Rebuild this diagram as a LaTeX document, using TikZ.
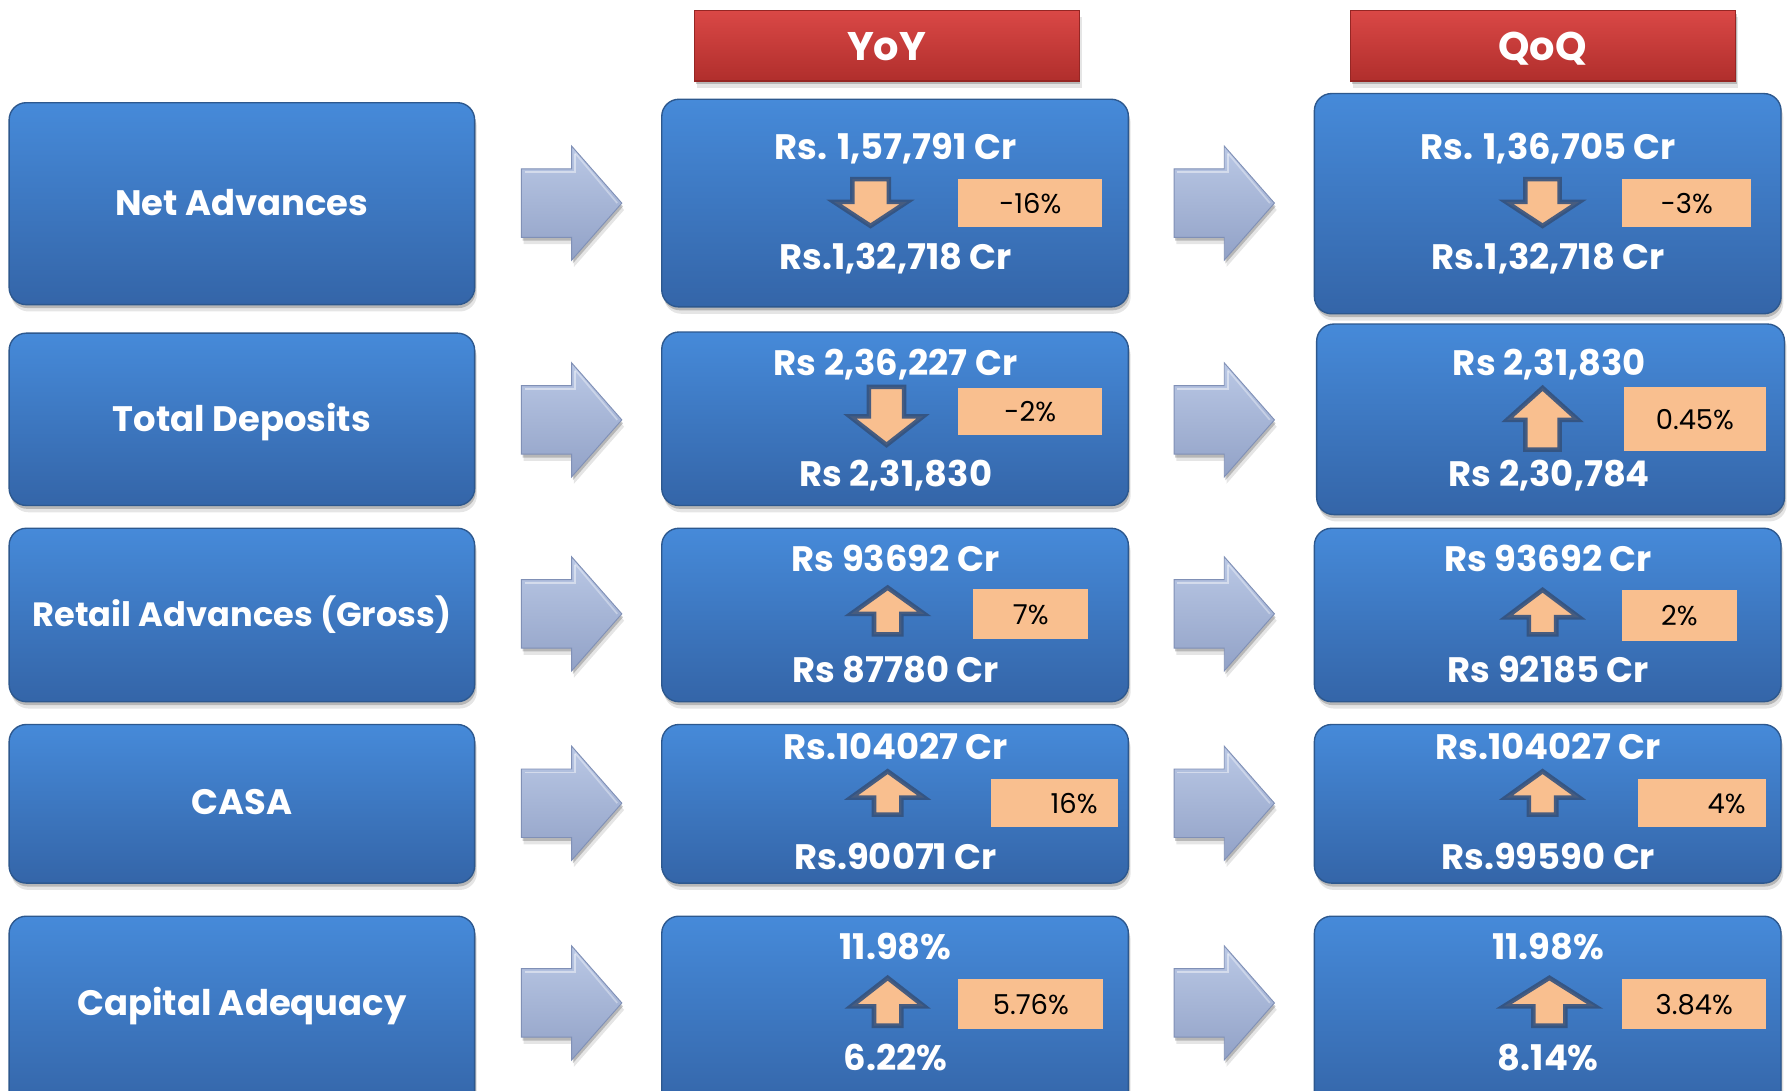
\documentclass[tikz,border=0pt]{standalone}
\usepackage{fontspec}
\setmainfont{Poppins}
\usetikzlibrary{shadows}
\definecolor{boxtop}{RGB}{70,138,217}
\definecolor{boxbot}{RGB}{52,101,168}
\definecolor{boxline}{RGB}{45,88,142}
\definecolor{redtop}{RGB}{218,72,70}
\definecolor{redbot}{RGB}{176,46,44}
\definecolor{redline}{RGB}{150,38,36}
\definecolor{peach}{RGB}{249,191,143}
\definecolor{arrline}{RGB}{52,82,126}
\definecolor{bigtop}{RGB}{186,200,229}
\definecolor{bigbot}{RGB}{146,162,199}
\definecolor{bigline}{RGB}{128,144,182}
\tikzset{
  every node/.style={inner sep=0pt, outer sep=0pt},
  softshadow/.style={drop shadow={shadow xshift=1pt,shadow yshift=-3pt,opacity=0.20,fill=black},
                     drop shadow={shadow xshift=2pt,shadow yshift=-6pt,opacity=0.10,fill=black}},
  bluebox/.style={softshadow, rounded corners=15pt, top color=boxtop, bottom color=boxbot, draw=boxline, line width=1.2pt},
  redbox/.style={softshadow, top color=redtop, bottom color=redbot, draw=redline, line width=1pt},
  peachbox/.style={fill=peach},
  bigarrow/.style={softshadow, top color=bigtop, bottom color=bigbot, draw=bigline, line width=0.8pt, line join=miter},
  smallarrow/.style={fill=peach, draw=arrline, line width=4pt, line join=miter, draw opacity=0.9},
  valtext/.style={text=white, font=\bfseries\fontsize{31}{33}\selectfont, anchor=base},
  narrowtext/.style={text=white, font=\bfseries\fontsize{29.5}{31}\selectfont, anchor=base},
  headtext/.style={text=white, font=\bfseries\fontsize{35}{37}\selectfont, anchor=base},
  pcttext/.style={text=black, font=\fontsize{24}{26}\selectfont, anchor=base},
}
\newcommand\mkbox[6]{\node[#6, anchor=north west, minimum width={#4-#2}, minimum height={#5-#3}] (#1) at (#2,#3) {};}
\newcommand\pctbox[6]{\node[peachbox, anchor=north west, minimum width={#4-#2}, minimum height={#5-#3}] (#1) at (#2,#3) {};
  \node[pcttext] (#1t) at ({(#2+#4)/2},{(#3+#5)/2+9}) {#6};}
\newcommand\pctboxr[6]{\node[peachbox, anchor=north west, minimum width={#4-#2}, minimum height={#5-#3}] (#1) at (#2,#3) {};
  \node[pcttext, anchor=base east] (#1t) at ({#4-18},{(#3+#5)/2+9}) {#6};}
\newcommand\smarr[6]{\draw[smallarrow] ({#1-#5},#4) -- ({#1-#5},#3) -- ({#1-#6},#3) -- (#1,#2) -- ({#1+#6},#3) -- ({#1+#5},#3) -- ({#1+#5},#4) -- cycle;}
\newcommand\bigarr[2]{\draw[bigarrow] (#1,{#2-30}) -- ({#1+44},{#2-30}) -- ({#1+44},{#2-50}) -- ({#1+88},#2) -- ({#1+44},{#2+50}) -- ({#1+44},{#2+30}) -- (#1,{#2+30}) -- cycle;
  \draw[white, opacity=0.45, line width=1.5pt] ({#1+3},{#2-27}) -- ({#1+47},{#2-27}) -- ({#1+47},{#2-43});
  \draw[white, opacity=0.35, line width=1.5pt] ({#1+47},{#2-44}) -- ({#1+84},{#2});}
\begin{document}
\begin{tikzpicture}[x=1pt,y=-1pt]
\useasboundingbox (0,0) rectangle (1568,956);
\fill[white] (0,0) rectangle (1568,956);
\clip (0,0) rectangle (1568,956);
% headers
\mkbox{yoy}{609}{9}{946}{71}{redbox}
\mkbox{qoq}{1184}{9}{1521}{71}{redbox}
\node[headtext] (yoyt) at (777,53) {YoY};
\node[headtext] (qoqt) at (1352,53) {QoQ};
% left boxes
\mkbox{L1}{8}{90}{416}{267}{bluebox}
\mkbox{L2}{8}{292}{416}{443}{bluebox}
\mkbox{L3}{8}{463}{416}{615}{bluebox}
\mkbox{L4}{8}{635}{416}{774}{bluebox}
\mkbox{L5}{8}{803}{416}{975}{bluebox}
\node[valtext] (L1t) at (212,189) {Net Advances};
\node[valtext] (L2t) at (212,378) {Total Deposits};
\node[narrowtext] (L3t) at (212,549) {Retail Advances (Gross)};
\node[valtext] (L4t) at (212,714) {CASA};
\node[valtext] (L5t) at (212,890) {Capital Adequacy};
% middle boxes
\mkbox{M1}{580}{87}{989}{269}{bluebox}
\mkbox{M2}{580}{291}{989}{443}{bluebox}
\mkbox{M3}{580}{463}{989}{615}{bluebox}
\mkbox{M4}{580}{635}{989}{774}{bluebox}
\mkbox{M5}{580}{803}{989}{975}{bluebox}
% right boxes
\mkbox{R1}{1152}{82}{1561}{275}{bluebox}
\mkbox{R2}{1154}{284}{1564}{451}{bluebox}
\mkbox{R3}{1152}{463}{1561}{615}{bluebox}
\mkbox{R4}{1152}{635}{1561}{774}{bluebox}
\mkbox{R5}{1152}{803}{1561}{975}{bluebox}
% big arrows
\foreach \cy in {178,368,538,704,879}{\bigarr{457}{\cy}\bigarr{1029}{\cy}}
% row 1
\node[valtext] (M1a) at (785,140) {Rs. 1,57,791 Cr};
\node[valtext] (M1b) at (785,236) {Rs.1,32,718 Cr};
\smarr{763}{198}{177}{157}{16}{32}
\pctbox{M1p}{840}{157}{966}{199}{-16\%}
\node[valtext] (R1a) at (1357,140) {Rs. 1,36,705 Cr};
\node[valtext] (R1b) at (1357,236) {Rs.1,32,718 Cr};
\smarr{1352}{198}{177}{157}{15}{32}
\pctbox{R1p}{1422}{157}{1535}{199}{-3\%}
% row 2
\node[valtext] (M2a) at (785,329) {Rs 2,36,227 Cr};
\node[valtext] (M2b) at (785,426) {Rs 2,31,830};
\smarr{777}{390}{365}{339}{15.5}{32}
\pctbox{M2p}{840}{340}{966}{381}{-2\%}
\node[valtext] (R2a) at (1358,329) {Rs 2,31,830};
\node[valtext] (R2b) at (1358,426) {Rs 2,30,784};
\smarr{1352}{340}{368}{394}{15}{31}
\pctbox{R2p}{1423}{339}{1548}{395}{0.45\%}
% row 3
\node[valtext] (M3a) at (785,501) {Rs 93692 Cr};
\node[valtext] (M3b) at (785,598) {Rs 87780 Cr};
\smarr{778}{515}{538}{556}{12}{32}
\pctbox{M3p}{853}{516}{954}{560}{7\%}
\node[valtext] (R3a) at (1357,501) {Rs 93692 Cr};
\node[valtext] (R3b) at (1357,598) {Rs 92185 Cr};
\smarr{1352}{517}{541}{556}{12}{32}
\pctbox{R3p}{1422}{517}{1522}{562}{2\%}
% row 4
\node[valtext] (M4a) at (785,666) {Rs.104027 Cr};
\node[valtext] (M4b) at (785,762) {Rs.90071 Cr};
\smarr{778}{676}{699}{714}{12}{32}
\pctboxr{M4p}{869}{683}{980}{725}{16\%}
\node[valtext] (R4a) at (1357,666) {Rs.104027 Cr};
\node[valtext] (R4b) at (1357,762) {Rs.99590 Cr};
\smarr{1352}{676}{699}{714}{12}{32}
\pctboxr{R4p}{1436}{683}{1548}{725}{4\%}
% row 5
\node[valtext] (M5a) at (785,841) {11.98\%};
\node[valtext] (M5b) at (785,938) {6.22\%};
\smarr{778}{857}{882}{899}{12}{32}
\pctbox{M5p}{840}{858}{967}{902}{5.76\%}
\node[valtext] (R5a) at (1357,841) {11.98\%};
\node[valtext] (R5b) at (1357,938) {8.14\%};
\smarr{1358}{857}{882}{899}{14}{40}
\pctbox{R5p}{1422}{858}{1548}{902}{3.84\%}
\end{tikzpicture}
\end{document}
